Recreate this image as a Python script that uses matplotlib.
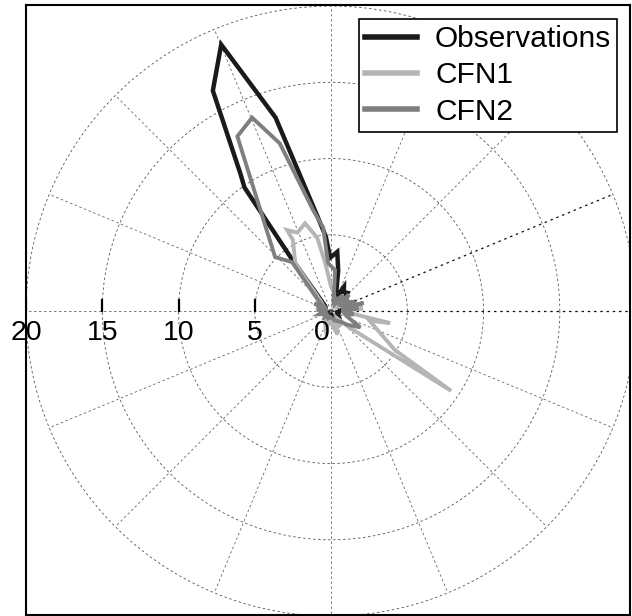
import numpy as np
import matplotlib
matplotlib.use("Agg")
import matplotlib.pyplot as plt

plt.rcParams["font.family"] = ["Liberation Sans", "DejaVu Sans"]

# direction (deg, counter-clockwise from east) and radius for each series
theta_obs = [0, 12, 23, 35, 48, 56, 62, 70, 80, 84, 91, 94, 98, 106, 112.4, 118.2,
             123.4, 125, 127, 131, 140, 155, 170, 185, 200, 215, 230, 245, 260,
             275, 290, 305, 320, 335, 350, 360]
r_obs = [0.6, 0.9, 1.4, 0.8, 1.6, 1.5, 1.8, 0.9, 2.7, 3.9, 3.5, 4.9, 6.2, 13.2, 18.9, 16.4,
         10.8, 9.9, 4.3, 1.2, 0.5, 0.4, 0.6, 0.3, 0.5, 0.4, 0.3, 0.5, 0.4,
         0.3, 0.6, 0.4, 0.7, 0.5, 0.4, 0.6]

theta_cfn1 = [0, 5, 8, 12, 18, 25, 32, 40, 50, 60, 70, 80, 90, 97, 100.7, 106.5,
              113.3, 118.5, 118.2, 126.9, 135, 150, 170, 180, 200, 220, 240, 255,
              265, 280, 286, 292, 300, 310, 318, 326.4, 328.6, 346, 348.5, 354, 360]
r_cfn1 = [0.8, 2.1, 1.0, 1.6, 0.7, 1.2, 0.6, 1.0, 0.5, 0.8, 0.5, 1.2, 1.6, 3.2, 4.9, 6.0,
          5.6, 6.05, 5.3, 3.9, 1.0, 0.5, 1.0, 0.4, 0.6, 0.4, 0.8, 1.3,
          0.6, 1.2, 1.6, 0.8, 1.2, 0.6, 1.6, 9.45, 4.9, 2.6, 3.95, 1.25, 0.8]

theta_cfn2 = [0, 6, 10, 14, 18, 22, 27, 32, 37, 42, 47, 53, 60, 68, 76, 84.4, 93.6,
              95.4, 100, 107, 112.2, 118.2, 136, 128.5, 140, 150, 155, 165, 175,
              185, 195, 210, 225, 240, 250, 265, 280, 295, 310, 320, 331, 338, 345,
              352, 360]
r_cfn2 = [0.8, 1.8, 0.7, 2.2, 0.8, 1.7, 0.7, 1.4, 0.6, 1.6, 0.7, 1.3, 0.6, 1.0, 0.7, 2.7, 3.15,
          5.5, 6.7, 11.5, 13.7, 13.0, 5.1, 4.1, 1.1, 0.6, 1.2, 0.5, 0.9,
          0.5, 0.8, 0.4, 0.6, 0.4, 0.5, 0.4, 0.5, 0.7, 0.9, 1.4, 2.2, 1.3, 1.0,
          1.5, 0.8]

labels = ["Observations", "CFN1", "CFN2"]
colors = ["#1a1a1a", "#b5b5b5", "#7f7f7f"]
rings = [5, 10, 15, 20]


def to_xy(theta, r):
    a = np.deg2rad(theta)
    return np.array(r) * np.cos(a), np.array(r) * np.sin(a)


fig = plt.figure(figsize=(6.32, 6.16), dpi=100)
ax = fig.add_axes([26 / 632, 1 / 616, 604 / 632, 610 / 616])
ax.set_xlim(-20.0, 19.6)
ax.set_ylim(-19.93, 20.07)

# polar grid
t = np.linspace(0, 2 * np.pi, 500)
for rr in rings:
    ax.plot(rr * np.cos(t), rr * np.sin(t), color="#555555", lw=0.6, ls=(0, (3, 3)))
for ang in np.arange(0, 360, 22.5):
    dark = ang in (0, 22.5)
    x, y = to_xy([0, ang], [0, 20])
    ax.plot(x, y, color="#111111" if dark else "#666666", lw=0.9 if dark else 0.6,
            ls=(0, (2, 3)) if dark else (0, (3, 3)))

# radial ticks on the left
for rr in rings:
    ax.plot([-rr, -rr], [0, 0.72], color="k", lw=1.6)
    ax.text(-rr, -0.6, str(rr), ha="center", va="top", fontsize=20.5)
ax.text(-0.6, -0.6, "0", ha="center", va="top", fontsize=20.5)

lines = []
for th, r, lab, c, lw in zip([theta_obs, theta_cfn1, theta_cfn2],
                             [r_obs, r_cfn1, r_cfn2], labels, colors, [3.2, 2.8, 2.8]):
    x, y = to_xy(th, r)
    ln, = ax.plot(x, y, color=c, lw=lw, label=lab, solid_joinstyle="miter")
    lines.append(ln)

leg = ax.legend(handles=lines, loc="upper right", bbox_to_anchor=(0.979, 0.977),
                borderaxespad=0, fontsize=21.5, fancybox=False, framealpha=1,
                edgecolor="k", handlelength=1.75, handletextpad=0.6,
                labelspacing=0.28, borderpad=0.2)
leg.get_frame().set_linewidth(1.2)
for h in leg.get_lines():
    h.set_linewidth(4)

ax.set_xticks([])
ax.set_yticks([])
for s in ax.spines.values():
    s.set_linewidth(1.5)

fig.savefig("out.png", dpi=100)
